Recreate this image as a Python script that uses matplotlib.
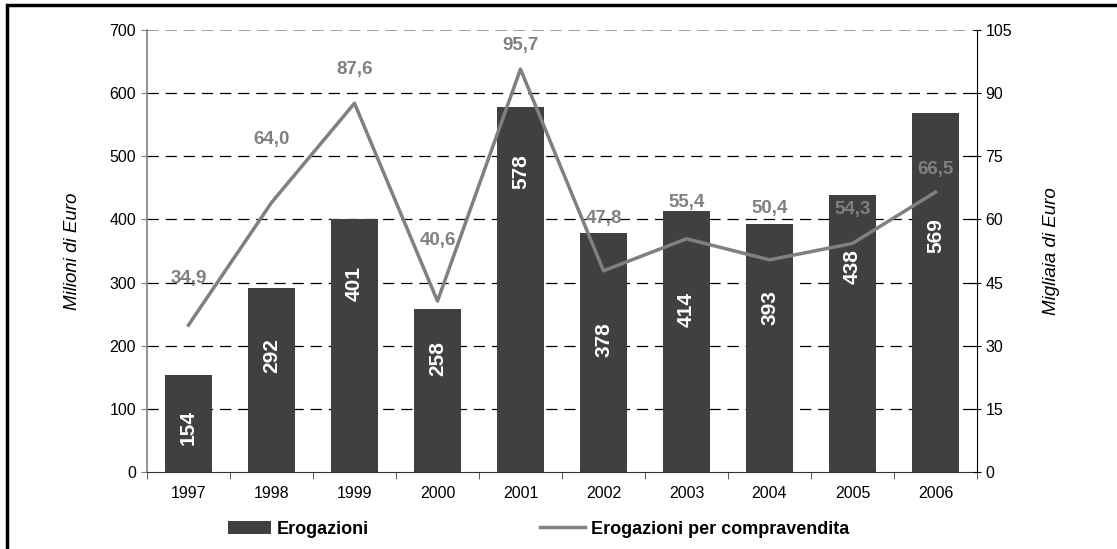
import matplotlib
matplotlib.use('Agg')
import matplotlib.pyplot as plt
import numpy as np
from matplotlib.patches import Rectangle

plt.rcParams['font.family'] = ['Liberation Sans', 'DejaVu Sans']

years = ['1997', '1998', '1999', '2000', '2001', '2002', '2003', '2004', '2005', '2006']
erogazioni = [154, 292, 401, 258, 578, 378, 414, 393, 438, 569]
per_compravendita = [34.9, 64.0, 87.6, 40.6, 95.7, 47.8, 55.4, 50.4, 54.3, 66.5]

# where the labels sit (as in the original sheet)
bar_label_y = [71, 185, 298, 179, 475, 209, 257, 260, 326, 374]
line_label_dy = [47, 63, 34, 61, 24, 52, 36, 51, 34, 23]

bar_col = '#404040'
line_col = '#808080'

fig = plt.figure(figsize=(11.17, 5.49), dpi=100)
ax = fig.add_axes([147/1117, 1-472/549, 830/1117, 442/549])
ax2 = ax.twinx()

x = np.arange(len(years))
bars = ax.bar(x, erogazioni, width=0.57, color=bar_col, zorder=2, label='Erogazioni')
ax.set_xlim(-0.5, len(years)-0.5)
ax.set_ylim(0, 700)
ax.set_yticks(np.arange(0, 701, 100))
ax.set_xticks(x)
ax.set_xticklabels(years, fontsize=11.5)
ax.set_xticks(np.arange(-0.5, len(years), 1), minor=True)
ax.tick_params(axis='x', which='major', length=0, pad=10)
ax.tick_params(axis='x', which='minor', length=5, direction='out', color='#404040')
ax.tick_params(axis='y', labelsize=11.5, length=4, pad=4, color='#808080')
for v in range(100, 701, 100):
    if v == 700:
        ax.axhline(v, color='#909090', lw=1.2, ls=(0, (7, 4)), zorder=1)
    else:
        ax.axhline(v, color='black', lw=0.9, ls=(0, (9, 5.5)), zorder=1)
ax.spines['left'].set_color('#808080')
ax.spines['left'].set_linewidth(1.2)
ax.spines['bottom'].set_color('#303030')
ax.spines['top'].set_visible(False)
ax.spines['right'].set_visible(False)
ax.set_ylabel('Milioni di Euro', fontsize=13.5, style='italic', labelpad=20)

for xi, v, ly in zip(x, erogazioni, bar_label_y):
    ax.text(xi, ly, str(v), rotation=90, ha='center', va='center', color='white',
            fontsize=15, fontweight='bold', zorder=3)

ax2.plot(x, per_compravendita, color=line_col, lw=2.5, zorder=4, label='Erogazioni per compravendita')
ax2.set_ylim(0, 105)
ax2.set_yticks(np.arange(0, 106, 15))
ax2.tick_params(axis='y', labelsize=11.5, length=6, pad=3, direction='inout', color='black')
ax2.spines['right'].set_color('black')
ax2.spines['left'].set_visible(False)
ax2.spines['top'].set_visible(False)
ax2.spines['bottom'].set_visible(False)
ax2.set_ylabel('Migliaia di Euro', fontsize=13.5, style='italic', labelpad=22)

for xi, v, dy in zip(x, per_compravendita, line_label_dy):
    ax2.annotate(f'{v:.1f}'.replace('.', ','), (xi, v), xytext=(0, dy),
                 textcoords='offset pixels', ha='center', va='center',
                 color=line_col, fontsize=13.5, fontweight='bold', zorder=5)

h1, l1 = ax.get_legend_handles_labels()
h2, l2 = ax2.get_legend_handles_labels()
leg_kw = dict(frameon=False, prop={'weight': 'bold', 'size': 13}, handleheight=0.7,
              handletextpad=0.3, borderpad=0, borderaxespad=0)
fig.legend(h1, l1, loc='center left', bbox_to_anchor=(228/1117, 1-529/549),
           handlelength=2.4, **leg_kw)
fig.legend(h2, l2, loc='center left', bbox_to_anchor=(540/1117, 1-529/549),
           handlelength=2.5, **leg_kw)

fig.patches.append(Rectangle((6.5/1117, -0.1), 1.5, 1.1 - 5/549, transform=fig.transFigure,
                             fill=False, edgecolor='black', lw=2.5))

fig.savefig('out.png', dpi=100)
